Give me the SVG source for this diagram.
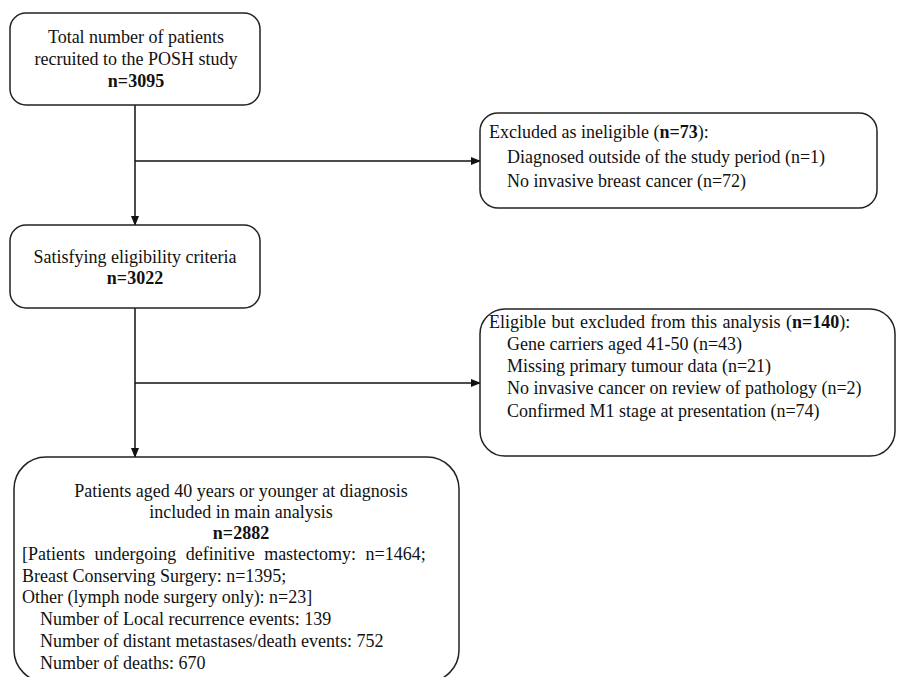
<svg xmlns="http://www.w3.org/2000/svg" width="897" height="677" viewBox="0 0 897 677">
<style>
.box{fill:#fff;stroke:#222;stroke-width:1.5}
.t{font-family:"Liberation Serif","Times New Roman",serif;font-size:18px;fill:#111}
.c{text-anchor:middle}
.b{font-weight:bold}
.ln{stroke:#111;stroke-width:1.5;fill:none}
</style>
<defs>
<marker id="ah" markerWidth="10" markerHeight="8" refX="9" refY="4" orient="auto" markerUnits="userSpaceOnUse">
<path d="M0,0 L10,4 L0,8 Z" fill="#111"/>
</marker>
</defs>
<rect width="897" height="677" fill="#fff"/>
<g id="connectors">
<line class="ln" x1="135" y1="105" x2="135" y2="225" marker-end="url(#ah)"/>
<line class="ln" x1="135" y1="161" x2="480" y2="161" marker-end="url(#ah)"/>
<line class="ln" x1="135" y1="308" x2="135" y2="457" marker-end="url(#ah)"/>
<line class="ln" x1="135" y1="383" x2="480" y2="383" marker-end="url(#ah)"/>
</g>
<g id="total">
<rect class="box" x="10" y="13" width="250" height="92" rx="16"/>
<text class="t c" x="136" y="43">Total number of patients</text>
<text class="t c" x="136" y="65">recruited to the POSH study</text>
<text class="t c b" x="136" y="87">n=3095</text>
</g>
<g id="excluded">
<rect class="box" x="480" y="113" width="397" height="95" rx="18"/>
<text class="t" x="489" y="138">Excluded as ineligible (<tspan class="b">n=73</tspan>):</text>
<text class="t" x="507" y="163">Diagnosed outside of the study period (n=1)</text>
<text class="t" x="507" y="187">No invasive breast cancer (n=72)</text>
</g>
<g id="eligible">
<rect class="box" x="10" y="225" width="250" height="83" rx="16"/>
<text class="t c" x="135" y="263">Satisfying eligibility criteria</text>
<text class="t c b" x="135" y="284">n=3022</text>
</g>
<g id="excluded2">
<rect class="box" x="480" y="309" width="415" height="147" rx="25"/>
<text class="t" x="489" y="328" word-spacing="1">Eligible but excluded from this analysis (<tspan class="b">n=140</tspan>):</text>
<text class="t" x="507" y="350">Gene carriers aged 41-50 (n=43)</text>
<text class="t" x="507" y="372">Missing primary tumour data (n=21)</text>
<text class="t" x="507" y="394">No invasive cancer on review of pathology (n=2)</text>
<text class="t" x="507" y="417">Confirmed M1 stage at presentation (n=74)</text>
</g>
<g id="main">
<rect class="box" x="14" y="457" width="445" height="225" rx="32"/>
<text class="t c" x="241" y="497">Patients aged 40 years or younger at diagnosis</text>
<text class="t c" x="241" y="518">included in main analysis</text>
<text class="t c b" x="241" y="539">n=2882</text>
<text class="t" x="22" y="560" word-spacing="5">[Patients undergoing definitive mastectomy: n=1464;</text>
<text class="t" x="22" y="582">Breast Conserving Surgery: n=1395;</text>
<text class="t" x="22" y="603">Other (lymph node surgery only): n=23]</text>
<text class="t" x="40" y="625">Number of Local recurrence events: 139</text>
<text class="t" x="40" y="647">Number of distant metastases/death events: 752</text>
<text class="t" x="40" y="669">Number of deaths: 670</text>
</g>
</svg>
